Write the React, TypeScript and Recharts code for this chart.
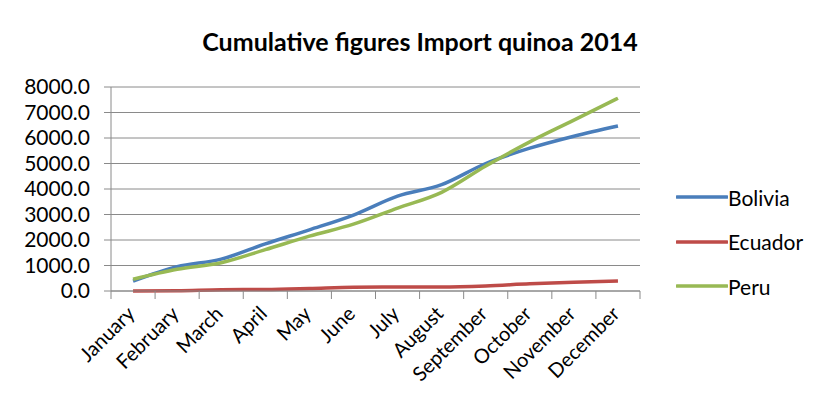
import React from "react";
import {
  LineChart,
  Line,
  XAxis,
  YAxis,
  CartesianGrid,
  Legend,
} from "recharts";

const MONTHS = [
  "January",
  "February",
  "March",
  "April",
  "May",
  "June",
  "July",
  "August",
  "September",
  "October",
  "November",
  "December",
];

const BOLIVIA = [390, 950, 1250, 1850, 2400, 2980, 3720, 4170, 5000, 5600, 6070, 6470];
const ECUADOR = [0, 10, 50, 60, 100, 150, 160, 160, 200, 280, 340, 390];
const PERU = [460, 850, 1110, 1620, 2150, 2620, 3250, 3870, 4900, 5850, 6700, 7560];

const Y_TICKS = [0, 1000, 2000, 3000, 4000, 5000, 6000, 7000, 8000];

const SERIES = [
  { key: "Bolivia", color: "#4A7EBB" },
  { key: "Ecuador", color: "#BE4B48" },
  { key: "Peru", color: "#98B954" },
];

const data = MONTHS.map((m, i) => ({
  month: m,
  Bolivia: BOLIVIA[i],
  Ecuador: ECUADOR[i],
  Peru: PERU[i],
}));

const FONT = "Lato, 'Open Sans', sans-serif";
const AXIS_GRAY = "#8a8a8a";

// month label rotated like Excel, plus the tick marks that sit between categories
function MonthTick({ x, y, payload, index }: any) {
  const half = payload.offset ?? 0;
  const axisY = y - 2;
  const tx = x + 3;
  const ty = y + 22;
  return (
    <g>
      <line
        x1={x - half}
        y1={axisY}
        x2={x - half}
        y2={axisY + 8}
        stroke={AXIS_GRAY}
      />
      {index === MONTHS.length - 1 && (
        <line
          x1={x + half}
          y1={axisY}
          x2={x + half}
          y2={axisY + 8}
          stroke={AXIS_GRAY}
        />
      )}
      <text
        x={tx}
        y={ty}
        transform={`rotate(-45 ${tx} ${ty})`}
        textAnchor="end"
        fontSize={20}
        fontFamily={FONT}
        fill="#000"
      >
        {payload.value}
      </text>
    </g>
  );
}

function LegendBox() {
  return (
    <div style={{ fontFamily: FONT, fontSize: 21, color: "#000" }}>
      {SERIES.map((s) => (
        <div
          key={s.key}
          style={{ display: "flex", alignItems: "center", height: 44.5 }}
        >
          <svg width={52} height={6}>
            <line
              x1={1}
              y1={3}
              x2={51}
              y2={3}
              stroke={s.color}
              strokeWidth={3.5}
              strokeLinecap="round"
            />
          </svg>
          <span>{s.key}</span>
        </div>
      ))}
    </div>
  );
}

export default function App() {
  return (
    <div
      style={{
        margin: -8,
        width: 823,
        height: 419,
        position: "relative",
        overflow: "hidden",
        background: "#fff",
      }}
    >
      <div
        style={{
          position: "absolute",
          left: 5,
          top: 5,
          width: 840,
          height: 440,
          borderLeft: "2px solid #8c8c8c",
          borderTop: "2px solid #8c8c8c",
        }}
      />
      <div
        style={{
          position: "absolute",
          left: 0,
          top: 26,
          width: 840,
          textAlign: "center",
          fontFamily: FONT,
          fontWeight: 700,
          fontSize: 25,
          color: "#000",
        }}
      >
        Cumulative figures Import quinoa 2014
      </div>
      <div style={{ position: "absolute", left: 0, top: 0 }}>
        <LineChart
          width={823}
          height={419}
          data={data}
          margin={{ top: 87, right: 183, left: 11, bottom: 28 }}
        >
          <CartesianGrid vertical={false} stroke={AXIS_GRAY} strokeWidth={1} />
          <XAxis
            dataKey="month"
            scale="band"
            interval={0}
            height={100}
            tickSize={0}
            tickMargin={2}
            tickLine={false}
            axisLine={{ stroke: AXIS_GRAY }}
            tick={<MonthTick />}
          />
          <YAxis
            domain={[0, 8000]}
            ticks={Y_TICKS}
            interval={0}
            width={100}
            tickFormatter={(v: number) => v.toFixed(1)}
            tick={{ fontSize: 21, fontFamily: FONT, fill: "#000" }}
            tickSize={7}
            tickMargin={14}
            tickLine={{ stroke: AXIS_GRAY }}
            axisLine={{ stroke: AXIS_GRAY }}
          />
          <Legend
            layout="horizontal"
            verticalAlign="middle"
            align="center"
            wrapperStyle={{ left: 676, top: 175, width: 146 }}
            content={<LegendBox />}
          />
          {SERIES.map((s) => (
            <Line
              key={s.key}
              type="monotone"
              dataKey={s.key}
              stroke={s.color}
              strokeWidth={3.5}
              dot={false}
              isAnimationActive={false}
            />
          ))}
        </LineChart>
      </div>
    </div>
  );
}
